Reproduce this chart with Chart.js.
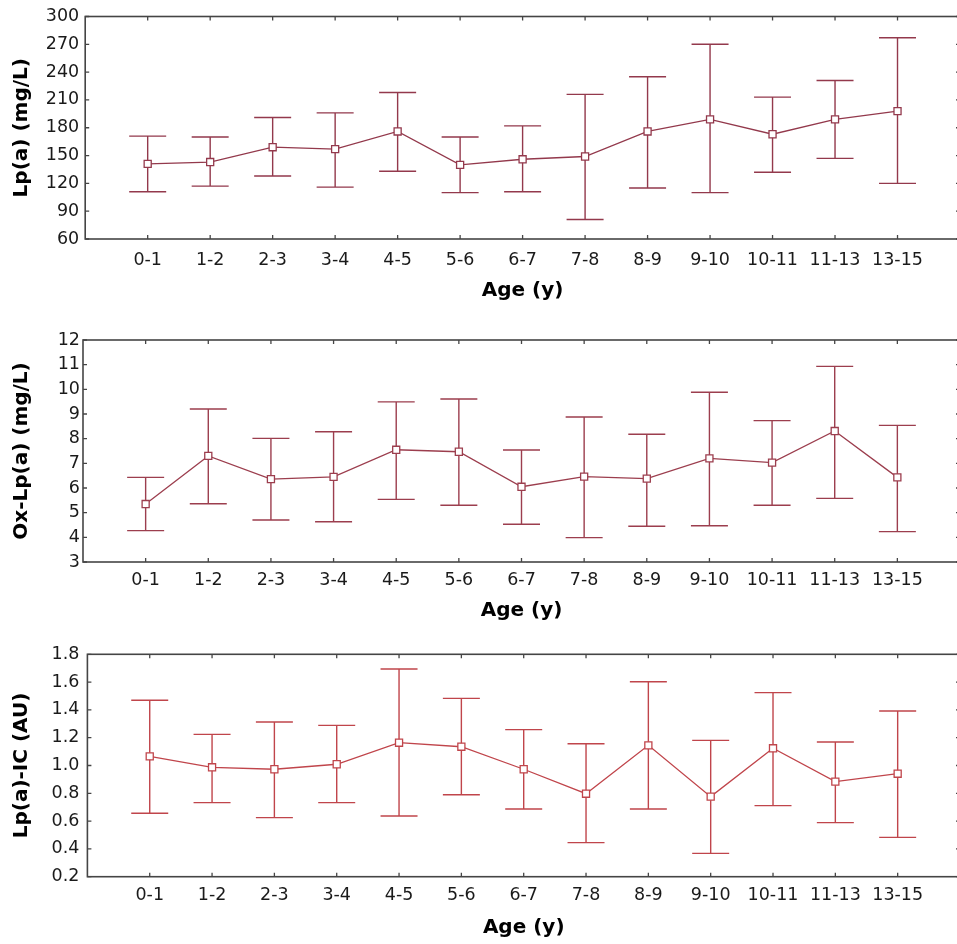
<!DOCTYPE html>
<html>
<head>
<meta charset="utf-8">
<script src="https://cdn.jsdelivr.net/npm/chart.js@4"></script>
<style>
  html, body { margin: 0; padding: 0; background: #fff; overflow: hidden; }
  #wrap { position: relative; width: 957px; height: 944px; }
  #wrap canvas { position: absolute; left: 0; }
</style>
</head>
<body>
<div id="wrap">
  <canvas id="lpa" width="961" height="315" style="top:0px"></canvas>
  <canvas id="oxlpa" width="961" height="310" style="top:320px"></canvas>
  <canvas id="lpaic" width="961" height="314" style="top:630px"></canvas>
</div>
<script>
// age groups on the x axis
const ageGroups = ['0-1', '1-2', '2-3', '3-4', '4-5', '5-6', '6-7', '7-8', '8-9', '9-10', '10-11', '11-13', '13-15'];

// Lp(a), mg/L
const lpaMean  = [141, 143, 159, 157, 176, 140, 146, 149, 176, 189, 173, 189, 198];
const lpaUpper = [171, 170, 191, 196, 218, 170, 182, 216, 235, 270, 213, 231, 277];
const lpaLower = [111, 117, 128, 116, 133, 110, 111,  81, 115, 110, 132, 147, 120];
const lpaTicks = [60, 90, 120, 150, 180, 210, 240, 270, 300];

// Ox-Lp(a), mg/L
const oxMean  = [5.35, 7.30, 6.36, 6.45, 7.55, 7.47, 6.05, 6.46, 6.38, 7.20, 7.03, 8.31, 6.43];
const oxUpper = [6.43, 9.20, 8.01, 8.28, 9.49, 9.61, 7.54, 8.88, 8.18, 9.88, 8.73, 10.93, 8.54];
const oxLower = [4.27, 5.36, 4.70, 4.63, 5.54, 5.30, 4.53, 3.99, 4.45, 4.47, 5.30, 5.58, 4.23];
const oxTicks = [3, 4, 5, 6, 7, 8, 9, 10, 11, 12];

// Lp(a)-IC, arbitrary units
const icMean  = [1.066, 0.987, 0.973, 1.009, 1.164, 1.135, 0.973, 0.797, 1.145, 0.776, 1.124, 0.884, 0.941];
const icUpper = [1.469, 1.224, 1.313, 1.289, 1.694, 1.483, 1.258, 1.157, 1.603, 1.181, 1.524, 1.169, 1.392];
const icLower = [0.656, 0.733, 0.625, 0.733, 0.637, 0.790, 0.687, 0.445, 0.687, 0.368, 0.711, 0.589, 0.483];
const icTicks = [0.2, 0.4, 0.6, 0.8, 1.0, 1.2, 1.4, 1.6, 1.8];

Chart.defaults.font.family = "'DejaVu Sans', sans-serif";
Chart.defaults.color = '#1a1a1a';

// whiskers + caps, drawn under the square markers
const errorBars = {
  id: 'errorBars',
  beforeDatasetsDraw(chart, args, opts) {
    const { ctx, scales: { x, y } } = chart;
    ctx.save();
    ctx.strokeStyle = opts.color;
    ctx.lineWidth = 1.4;
    opts.upper.forEach((hi, i) => {
      const px = x.getPixelForValue(i);
      const yHi = y.getPixelForValue(hi);
      const yLo = y.getPixelForValue(opts.lower[i]);
      ctx.beginPath();
      ctx.moveTo(px, yHi); ctx.lineTo(px, yLo);
      ctx.moveTo(px - 18.5, yHi); ctx.lineTo(px + 18.5, yHi);
      ctx.moveTo(px - 18.5, yLo); ctx.lineTo(px + 18.5, yLo);
      ctx.stroke();
    });
    ctx.restore();
  }
};

// box around the plot with short inward ticks on all four sides
const frame = {
  id: 'frame',
  afterDraw(chart, args, opts) {
    const { ctx, chartArea: a, scales: { x, y } } = chart;
    ctx.save();
    ctx.strokeStyle = '#454545';
    ctx.lineWidth = 1.6;
    ctx.strokeRect(a.left, a.top, a.right - a.left, a.bottom - a.top);
    ctx.lineWidth = 1.3;
    ctx.beginPath();
    ageGroups.forEach((g, i) => {
      const px = x.getPixelForValue(i);
      ctx.moveTo(px, a.top); ctx.lineTo(px, a.top + 4);
      ctx.moveTo(px, a.bottom); ctx.lineTo(px, a.bottom - 4);
    });
    opts.ticks.forEach(t => {
      const py = y.getPixelForValue(t);
      ctx.moveTo(a.left, py); ctx.lineTo(a.left + 4, py);
      ctx.moveTo(a.right, py); ctx.lineTo(a.right - 4, py);
    });
    ctx.stroke();
    ctx.restore();
  }
};

function makePanel(id, cfg) {
  const pts = cfg.mean.map((v, i) => ({ x: i, y: v }));
  new Chart(document.getElementById(id), {
    type: 'line',
    data: {
      datasets: [{
        data: pts,
        borderColor: cfg.color,
        borderWidth: 1.3,
        tension: 0,
        pointStyle: 'rect',
        pointRadius: 5,
        pointBackgroundColor: '#fff',
        pointBorderColor: cfg.color,
        pointBorderWidth: 1.3
      }]
    },
    options: {
      responsive: false,
      animation: false,
      devicePixelRatio: 1,
      // the box's right edge falls just past the canvas edge
      layout: { autoPadding: false, padding: { top: cfg.top, right: 1, left: 0, bottom: 0 } },
      plugins: {
        legend: { display: false },
        tooltip: { enabled: false },
        errorBars: { upper: cfg.upper, lower: cfg.lower, color: cfg.color },
        frame: { ticks: cfg.ticks }
      },
      scales: {
        x: {
          type: 'linear',
          min: -1,
          max: ageGroups.length,
          afterFit: s => {
            s.height = cfg.height - cfg.bottom;
            s.paddingLeft = 0;
            s.paddingRight = 0;
          },
          afterBuildTicks: s => { s.ticks = ageGroups.map((g, i) => ({ value: i })); },
          grid: { display: false, drawTicks: false },
          border: { display: false },
          ticks: {
            autoSkip: false,
            maxRotation: 0,
            padding: cfg.xPad,
            font: { size: 17.5 },
            callback: v => ageGroups[v] ?? ''
          },
          title: {
            display: true,
            text: 'Age (y)',
            color: '#000',
            font: { size: 20, weight: 'bold' },
            padding: { top: 0, bottom: cfg.xTitlePad }
          }
        },
        y: {
          min: cfg.ticks[0],
          max: cfg.ticks[cfg.ticks.length - 1],
          afterFit: s => { s.width = cfg.left; },
          afterBuildTicks: s => { s.ticks = cfg.ticks.map(t => ({ value: t })); },
          grid: { display: false, drawTicks: false },
          border: { display: false },
          ticks: {
            padding: cfg.yPad,
            font: { size: 17.5 },
            callback: cfg.fmt
          },
          title: {
            display: true,
            text: cfg.yTitle,
            color: '#000',
            font: { size: 20, weight: 'bold' },
            padding: { top: 10, bottom: 0 }
          }
        }
      }
    },
    plugins: [errorBars, frame]
  });
}

makePanel('lpa', {
  mean: lpaMean, upper: lpaUpper, lower: lpaLower, ticks: lpaTicks,
  color: '#93394c', yTitle: 'Lp(a) (mg/L)', fmt: v => String(v),
  height: 315, top: 16, bottom: 239, left: 85.2, xPad: 10.5, xTitlePad: 12.5, yPad: 6
});

makePanel('oxlpa', {
  mean: oxMean, upper: oxUpper, lower: oxLower, ticks: oxTicks,
  color: '#9c3e4e', yTitle: 'Ox-Lp(a) (mg/L)', fmt: v => String(v),
  height: 310, top: 20, bottom: 242, left: 83, xPad: 7.5, xTitlePad: 7.5, yPad: 3
});

makePanel('lpaic', {
  mean: icMean, upper: icUpper, lower: icLower, ticks: icTicks,
  color: '#c0454b', yTitle: 'Lp(a)-IC (AU)', fmt: v => v.toFixed(1),
  height: 314, top: 24.3, bottom: 246.7, left: 87.4, xPad: 7.8, xTitlePad: 4.5, yPad: 8
});
</script>
</body>
</html>
